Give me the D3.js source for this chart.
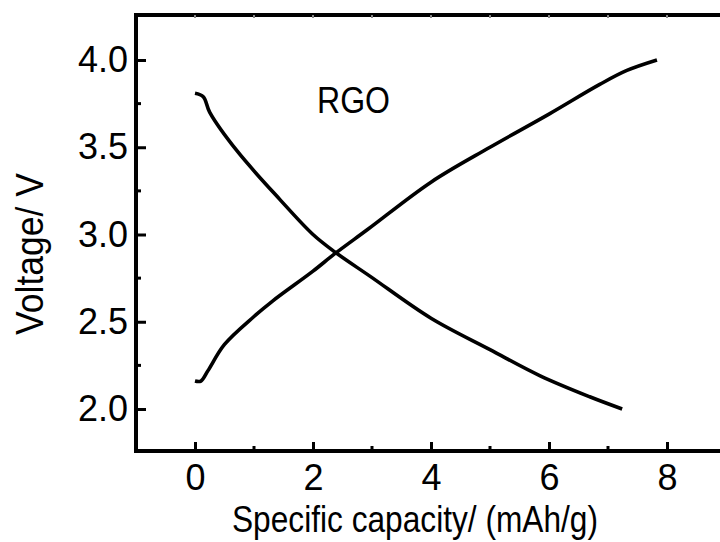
<!DOCTYPE html>
<html>
<head>
<meta charset="utf-8">
<script src="https://cdn.jsdelivr.net/npm/d3@7"></script>
<style>
  html, body { margin: 0; padding: 0; background: #fff; overflow: hidden; }
  text { font-family: "Liberation Sans", Arial, sans-serif; fill: #000; }
</style>
</head>
<body>
<svg id="chart" width="720" height="542"></svg>
<script>
// Galvanostatic discharge / charge profiles of the RGO electrode
const dischargeCapacity = [0, 0.14, 0.25, 0.71, 1.44, 2.0, 2.37, 2.97, 4.0, 5.0, 5.85, 6.69, 7.24];
const dischargeVoltage  = [3.81, 3.79, 3.70, 3.48, 3.20, 3.00, 2.90, 2.76, 2.52, 2.34, 2.19, 2.07, 2.00];

const chargeCapacity = [0, 0.1, 0.22, 0.5, 1.0, 1.32, 2.0, 2.37, 2.93, 4.0, 5.0, 6.0, 6.86, 7.32, 7.83];
const chargeVoltage  = [2.16, 2.16, 2.22, 2.37, 2.53, 2.62, 2.79, 2.89, 3.03, 3.30, 3.50, 3.69, 3.86, 3.94, 4.00];

const xMajorTicks = [0, 2, 4, 6, 8];
const xMinorTicks = [1, 3, 5, 7];
const yMajorTicks = [2.0, 2.5, 3.0, 3.5, 4.0];
const yMinorTicks = [2.25, 2.75, 3.25, 3.75];

const xTitle = "Specific capacity/ (mAh/g)";
const yTitle = "Voltage/ V";
const curveLabel = "RGO";

const svg = d3.select("#chart");

const x = d3.scaleLinear().domain([-1, 9]).range([136, 726]);
const y = d3.scaleLinear().domain([2.0, 4.0]).range([409, 60]);
const yBottom = 451, yTop = 15;

const frame = svg.append("g");

// curves
const line = d3.line()
  .x(d => x(d[0]))
  .y(d => y(d[1]))
  .curve(d3.curveCatmullRom.alpha(0.5));

const discharge = d3.zip(dischargeCapacity, dischargeVoltage);
const charge = d3.zip(chargeCapacity, chargeVoltage);

svg.append("g").selectAll("path")
  .data([discharge, charge])
  .join("path")
  .attr("d", line)
  .attr("fill", "none")
  .attr("stroke", "#000")
  .attr("stroke-width", 3.6)
  .attr("stroke-linecap", "butt");

// bottom axis
const xAxis = d3.axisBottom(x)
  .tickValues(xMajorTicks)
  .tickFormat(d3.format("d"))
  .tickSizeInner(-9)
  .tickSizeOuter(0)
  .tickPadding(13);

const gx = svg.append("g").attr("transform", `translate(0,${yBottom})`).call(xAxis);
gx.select(".domain").remove();
gx.selectAll(".tick line").attr("stroke", "#000").attr("stroke-width", 3);
gx.selectAll(".tick text").attr("font-size", 36).attr("font-family", "Liberation Sans, Arial, sans-serif");

svg.append("g").selectAll("line")
  .data(xMinorTicks)
  .join("line")
  .attr("x1", d => x(d)).attr("x2", d => x(d))
  .attr("y1", yBottom).attr("y2", yBottom - 5)
  .attr("stroke", "#000").attr("stroke-width", 3);

// left axis
const yAxis = d3.axisLeft(y)
  .tickValues(yMajorTicks)
  .tickFormat(d3.format(".1f"))
  .tickSizeInner(-10)
  .tickSizeOuter(0)
  .tickPadding(8);

const gy = svg.append("g").attr("transform", `translate(${x(-1)},0)`).call(yAxis);
gy.select(".domain").remove();
gy.selectAll(".tick line").attr("stroke", "#000").attr("stroke-width", 3);
gy.selectAll(".tick text").attr("font-size", 36).attr("font-family", "Liberation Sans, Arial, sans-serif");

svg.append("g").selectAll("line")
  .data(yMinorTicks)
  .join("line")
  .attr("x1", x(-1)).attr("x2", x(-1) + 5)
  .attr("y1", d => y(d)).attr("y2", d => y(d))
  .attr("stroke", "#000").attr("stroke-width", 3);

// top axis small ticks
svg.append("g").selectAll("line")
  .data(d3.range(0, 9))
  .join("line")
  .attr("x1", d => x(d)).attr("x2", d => x(d))
  .attr("y1", yTop).attr("y2", yTop + 3)
  .attr("stroke", "#888").attr("stroke-width", 2);

// frame lines
frame.append("line")
  .attr("x1", x(-1)).attr("x2", x(-1))
  .attr("y1", yTop - 2).attr("y2", yBottom + 2)
  .attr("stroke", "#000").attr("stroke-width", 4);
frame.append("line")
  .attr("x1", x(-1) - 2).attr("x2", 730)
  .attr("y1", yBottom).attr("y2", yBottom)
  .attr("stroke", "#000").attr("stroke-width", 4);
frame.append("line")
  .attr("x1", x(-1) - 2).attr("x2", 730)
  .attr("y1", yTop).attr("y2", yTop)
  .attr("stroke", "#000").attr("stroke-width", 4);

// titles
svg.append("text")
  .attr("x", 232).attr("y", 532)
  .attr("font-size", 37)
  .attr("textLength", 366)
  .attr("lengthAdjust", "spacingAndGlyphs")
  .text(xTitle);

svg.append("text")
  .attr("transform", "translate(43,335) rotate(-90)")
  .attr("font-size", 39)
  .attr("textLength", 162)
  .attr("lengthAdjust", "spacingAndGlyphs")
  .text(yTitle);

svg.append("text")
  .attr("x", 317).attr("y", 113)
  .attr("font-size", 36)
  .attr("textLength", 73)
  .attr("lengthAdjust", "spacingAndGlyphs")
  .text(curveLabel);
</script>
</body>
</html>
